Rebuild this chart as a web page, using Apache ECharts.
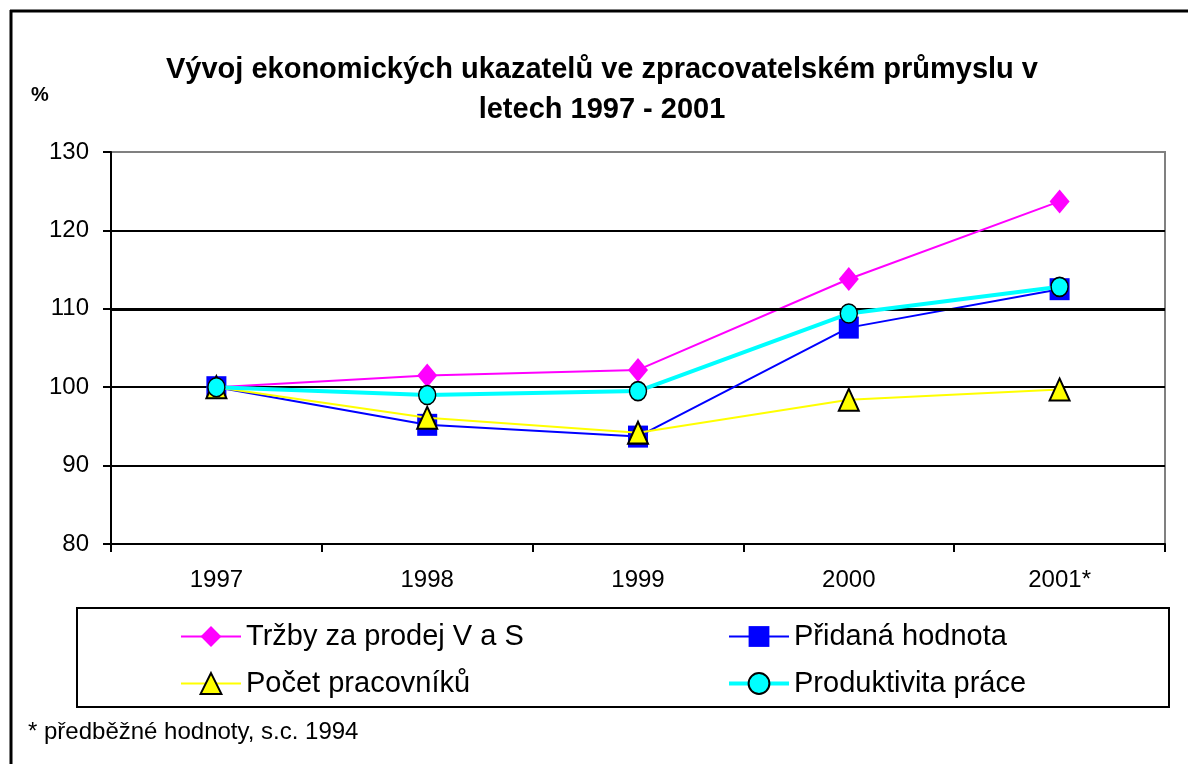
<!DOCTYPE html>
<html><head><meta charset="utf-8">
<script src="https://cdn.jsdelivr.net/npm/echarts@6/dist/echarts.min.js"></script>
<style>html,body{margin:0;padding:0;background:#fff}#c{width:1188px;height:764px}</style>
</head><body><div id="c"></div>
<script>
const categories = ['1997', '1998', '1999', '2000', '2001*'];
const trzby = [100, 101.5, 102.2, 113.8, 123.7];
const pridana = [100, 95.2, 93.7, 107.6, 112.5];
const pocet = [100, 96.1, 94.2, 98.4, 99.7];
const produktivita = [100, 99.0, 99.5, 109.4, 112.8];
const seriesNames = ['Tržby za prodej V a S', 'Přidaná hodnota', 'Počet pracovníků', 'Produktivita práce'];
const yTicks = { min: 80, max: 130, interval: 10 };

const FONT = '"Liberation Sans", Arial, sans-serif';
const chart = echarts.init(document.getElementById('c'), null, { renderer: 'canvas' });
const legendText = { fontFamily: FONT, fontSize: 29, color: '#000' };
chart.setOption({
  animation: false,
  backgroundColor: '#fff',
  title: {
    text: 'Vývoj ekonomických ukazatelů ve zpracovatelském průmyslu v\nletech 1997 - 2001',
    left: 597, top: 45, textAlign: 'center',
    textStyle: { fontFamily: FONT, fontSize: 29, fontWeight: 'bold', color: '#000', lineHeight: 40, align: 'center' }
  },
  graphic: [
    { type: 'line', shape: { x1: 10, y1: 11, x2: 1188, y2: 11 }, style: { stroke: '#000', lineWidth: 3 } },
    { type: 'line', shape: { x1: 11, y1: 10, x2: 11, y2: 764 }, style: { stroke: '#000', lineWidth: 3 } },
    { type: 'rect', shape: { x: 77, y: 608, width: 1092, height: 99 }, style: { fill: null, stroke: '#000', lineWidth: 2 } },
    { type: 'text', left: 31, top: 85, style: { text: '%', font: 'bold 20px ' + FONT, fill: '#000' } },
    { type: 'text', left: 28, top: 720, style: { text: '* předběžné hodnoty, s.c. 1994', font: '24px ' + FONT, fill: '#000' } }
  ],
  legend: [
    {
      data: [
        { name: seriesNames[0], lineStyle: { width: 2 } },
        { name: seriesNames[2], lineStyle: { width: 2 } }
      ],
      orient: 'vertical', left: 175, top: 617,
      itemWidth: 60, itemHeight: 26, itemGap: 18, textStyle: legendText
    },
    {
      data: [
        { name: seriesNames[1], lineStyle: { width: 2 } },
        { name: seriesNames[3], lineStyle: { width: 4 } }
      ],
      orient: 'vertical', left: 722, top: 617,
      itemWidth: 60, itemHeight: 26, itemGap: 18, textStyle: legendText
    }
  ],
  grid: { left: 111, right: 23, top: 152, bottom: 220, show: true, borderColor: '#808080', borderWidth: 2 },
  xAxis: {
    type: 'category', data: categories, boundaryGap: true,
    axisLine: { lineStyle: { color: '#000', width: 2 } },
    axisTick: { show: true, length: 8, lineStyle: { color: '#000', width: 2 } },
    axisLabel: { fontFamily: FONT, fontSize: 24, color: '#000', margin: 24 },
    splitLine: { show: false }
  },
  yAxis: {
    type: 'value', min: yTicks.min, max: yTicks.max, interval: yTicks.interval,
    axisLine: { show: true, lineStyle: { color: '#000', width: 2 } },
    axisTick: { show: true, length: 8, lineStyle: { color: '#000', width: 2 } },
    axisLabel: { fontFamily: FONT, fontSize: 24, color: '#000', margin: 22 },
    splitLine: { show: true, showMaxLine: false, lineStyle: { color: '#000', width: 2 } }
  },
  series: [
    {
      name: seriesNames[0], type: 'line', data: trzby, z: 2,
      symbol: 'diamond', symbolSize: [20, 24],
      lineStyle: { color: '#FF00FF', width: 2 },
      itemStyle: { color: '#FF00FF' },
      markLine: { silent: true, symbol: 'none', label: { show: false },
        lineStyle: { color: '#000', width: 3, type: 'solid' }, data: [{ yAxis: 110 }] }
    },
    {
      name: seriesNames[1], type: 'line', data: pridana, z: 3,
      symbol: 'rect', symbolSize: [20, 22],
      lineStyle: { color: '#0000FF', width: 2 },
      itemStyle: { color: '#0000FF' }
    },
    {
      name: seriesNames[2], type: 'line', data: pocet, z: 4,
      symbol: 'triangle', symbolSize: [20, 22],
      lineStyle: { color: '#FFFF00', width: 2 },
      itemStyle: { color: '#FFFF00', borderColor: '#000', borderWidth: 2 }
    },
    {
      name: seriesNames[3], type: 'line', data: produktivita, z: 5,
      symbol: 'circle', symbolSize: [17, 19],
      lineStyle: { color: '#00FFFF', width: 4 },
      itemStyle: { color: '#00FFFF', borderColor: '#000', borderWidth: 1.5 }
    }
  ]
});
</script></body></html>
